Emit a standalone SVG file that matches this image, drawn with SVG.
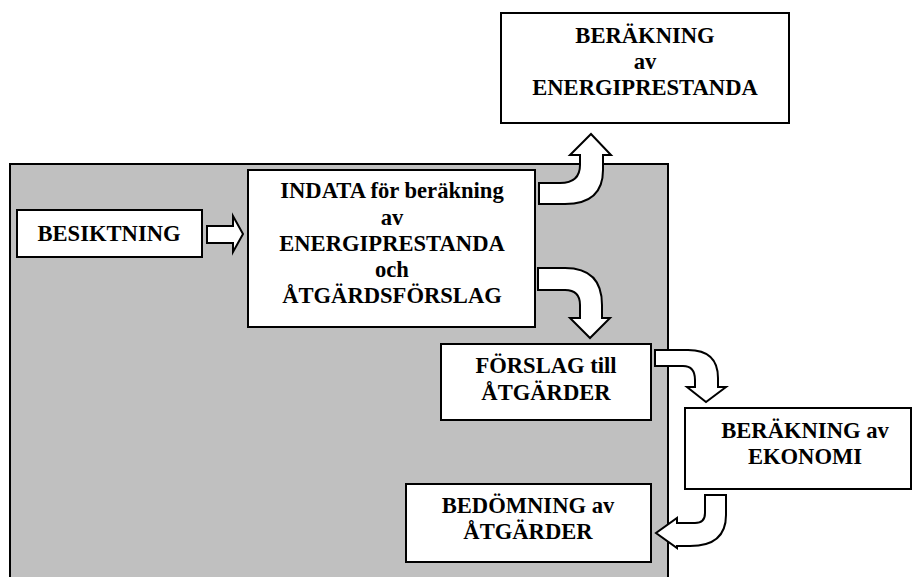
<svg xmlns="http://www.w3.org/2000/svg" width="913" height="577" viewBox="0 0 913 577">
<style>
.box{fill:#fff;stroke:#000;stroke-width:2}
.arrow{fill:#fff;stroke:#000;stroke-width:2;stroke-linejoin:miter}
.t{font-family:'Liberation Serif','Times New Roman',serif;font-weight:700;font-size:22.6px;text-anchor:middle;fill:#000}
</style>
<rect id="area" x="10" y="164" width="658" height="430" fill="#c0c0c0" stroke="#000" stroke-width="2"/>
<g id="energi">
<rect class="box" x="501" y="13" width="288" height="110"/>
<text class="t" x="645" y="43">BERÄKNING</text>
<text class="t" x="645" y="69">av</text>
<text class="t" x="645" y="95">ENERGIPRESTANDA</text>
</g>
<g id="besiktning">
<rect class="box" x="17" y="210" width="185" height="47"/>
<text class="t" x="109" y="241">BESIKTNING</text>
</g>
<g id="indata">
<rect class="box" x="248" y="170" width="287" height="157"/>
<text class="t" x="392" y="198">INDATA för beräkning</text>
<text class="t" x="392" y="225">av</text>
<text class="t" x="392" y="251">ENERGIPRESTANDA</text>
<text class="t" x="392" y="277">och</text>
<text class="t" x="392" y="303">ÅTGÄRDSFÖRSLAG</text>
</g>
<g id="forslag">
<rect class="box" x="441" y="344" width="210" height="76"/>
<text class="t" x="546" y="373">FÖRSLAG till</text>
<text class="t" x="546" y="400">ÅTGÄRDER</text>
</g>
<g id="ekonomi">
<rect class="box" x="685" y="408" width="226" height="81"/>
<text class="t" x="805" y="438">BERÄKNING av</text>
<text class="t" x="805" y="464">EKONOMI</text>
</g>
<g id="bedomning">
<rect class="box" x="406" y="484" width="245" height="78"/>
<text class="t" x="528" y="513">BEDÖMNING av</text>
<text class="t" x="528" y="539">ÅTGÄRDER</text>
</g>
<g id="connectors">
<path class="arrow" d="M207,226 H233 V216 L243,234 L233,252 V243 H207 Z"/>
<path class="arrow" d="M539,183 H560 Q580,183 580,165 V155 H570 L591,134 L611,155 H603 V170 Q603,204 565,204 H539 Z"/>
<path class="arrow" d="M538,268 H565 Q602,268 602,305 V318 H610 L590,338 L570,318 H580 V305 Q580,290 565,290 H538 Z"/>
<path class="arrow" d="M655,350 H688 Q718,350 718,378 V387 H726 L706,402 L687,387 H695 V380 Q695,366 683,366 H655 Z"/>
<path class="arrow" d="M705,495 H726 V515 Q726,546 690,546 H677 V548 L656,533 L677,518 V523 H695 Q705,523 705,513 Z"/>
</g>
</svg>
